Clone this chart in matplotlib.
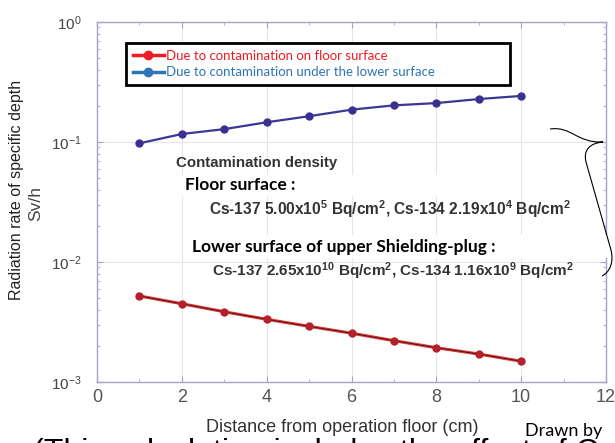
import matplotlib
matplotlib.use('Agg')
import matplotlib.pyplot as plt
from matplotlib.lines import Line2D
from matplotlib.path import Path
from matplotlib.patches import PathPatch, Rectangle
from matplotlib.ticker import LogLocator, LogFormatterSciNotation, MultipleLocator

plt.rcParams['font.family'] = ['Liberation Sans', 'DejaVu Sans']
plt.rcParams['mathtext.fontset'] = 'custom'
plt.rcParams['mathtext.rm'] = 'Liberation Sans'
plt.rcParams['mathtext.bf'] = 'Liberation Sans:bold'

# Data
distance = [1, 2, 3, 4, 5, 6, 7, 8, 9, 10]
floor_rate = [0.00521, 0.00449, 0.00385, 0.00333, 0.00291,
              0.00255, 0.00221, 0.00193, 0.00171, 0.00149]
lower_rate = [0.0975, 0.1166, 0.128, 0.146, 0.164,
              0.186, 0.202, 0.211, 0.228, 0.242]
legend_labels = ['Due to contamination on floor surface',
                 'Due to contamination under the lower surface']
x_ticks = [0, 2, 4, 6, 8, 10, 12]

W, H = 615, 443


# pixel position -> figure fraction
def px(x, y):
    return x / W, 1 - y / H


fig = plt.figure(figsize=(6.15, 4.43), dpi=100)
ax = fig.add_axes([97 / W, 1 - 382 / H, (606 - 97) / W, (382 - 22) / H])

# Lines
ax.plot(distance, floor_rate, color='#e03434', lw=2.2, zorder=3)
ax.plot(distance, floor_rate, color='#3a1a1a', lw=0.6, marker='o', ms=5,
        mfc='#b4202c', mec='#b4202c', zorder=4)
ax.plot(distance, lower_rate, color='#3c3796', lw=1.6, marker='o', ms=5,
        mfc='#3a3090', mec='#3a3090', zorder=4)

ax.set_yscale('log')
ax.set_xlim(0, 12)
ax.set_ylim(1e-3, 1)
ax.set_xticks(x_ticks)
ax.xaxis.set_minor_locator(MultipleLocator(1))
ax.yaxis.set_major_locator(LogLocator(base=10))
ax.yaxis.set_major_formatter(LogFormatterSciNotation())

spine_col = '#aaa2c4'
for s in ax.spines.values():
    s.set_color(spine_col)
    s.set_linewidth(1.0)
ax.tick_params(which='both', direction='in', top=True, right=True, color=spine_col)
ax.tick_params(which='major', length=4)
ax.tick_params(which='minor', length=2)
ax.tick_params(axis='x', labelsize=13, labelcolor='#555555', pad=5)
ax.tick_params(axis='y', labelsize=11, labelcolor='#444444', pad=11)
ax.grid(True, which='major', color='#e6e6e6', lw=0.8)
ax.set_axisbelow(True)

# Legend
handles = [Line2D([0], [0], color='#ee1c24', lw=2.5, marker='o', ms=6),
           Line2D([0], [0], color='#2e75b6', lw=2.5, marker='o', ms=6)]
x0, y0 = px(126, 89)
leg = ax.legend(handles, legend_labels, loc='upper left', mode='expand',
                bbox_to_anchor=(x0, y0, 384 / W, 46 / H), bbox_transform=fig.transFigure,
                borderaxespad=0, prop={'family': 'Lato', 'size': 9.5},
                labelcolor=['#ee1c24', '#2e75b6'], handlelength=2.4,
                handletextpad=0.1, labelspacing=0.35, borderpad=0.5,
                fancybox=False, framealpha=1)
leg.get_frame().set_edgecolor('black')
leg.get_frame().set_linewidth(2)

# White boxes behind the Calibri headings
for (a, b, c, d) in [(182, 175, 520, 196), (185, 235, 612, 258)]:
    fig.patches.append(Rectangle(px(a, d), (c - a) / W, (d - b) / H,
                                 transform=fig.transFigure, facecolor='white',
                                 edgecolor='none', zorder=1))

fig.text(*px(176, 163), 'Contamination density', fontsize=10.8, fontweight='bold',
         color='#333333', va='center')
fig.text(*px(185, 185), 'Floor surface :', family='Lato', fontsize=12.5,
         fontweight='bold', color='black', va='center')
fig.text(*px(209, 209),
         r'Cs-137 5.00x$\mathbf{10^{5}}$ Bq/$\mathbf{cm^{2}}$, Cs-134 2.19x$\mathbf{10^{4}}$ Bq/$\mathbf{cm^{2}}$',
         fontsize=11.2, fontweight='bold', color='#333333', va='center')
fig.text(*px(192, 247), 'Lower surface of upper Shielding-plug :', family='Lato',
         fontsize=12.5, fontweight='bold', color='black', va='center')
fig.text(*px(212, 271),
         r'Cs-137 2.65x$\mathbf{10^{10}}$ Bq/$\mathbf{cm^{2}}$, Cs-134 1.16x$\mathbf{10^{9}}$ Bq/$\mathbf{cm^{2}}$',
         fontsize=11, fontweight='bold', color='#333333', va='center')

# Curly brace on the right
verts = [(550, 129), (572, 126), (576, 143), (603, 142),
         (590, 143), (583, 150), (586, 162),
         (611, 250),
         (614, 262), (610, 272), (602, 276)]
codes = [Path.MOVETO, Path.CURVE4, Path.CURVE4, Path.CURVE4,
         Path.CURVE4, Path.CURVE4, Path.CURVE4,
         Path.LINETO,
         Path.CURVE4, Path.CURVE4, Path.CURVE4]
brace = Path([px(x, y) for x, y in verts], codes)
fig.patches.append(PathPatch(brace, transform=fig.transFigure, facecolor='none',
                             edgecolor='black', lw=0.8, zorder=2))

# Axis labels and notes
fig.text(*px(342, 427), 'Distance from operation floor (cm)', fontsize=13,
         color='#333333', ha='center', va='center')
fig.text(*px(17, 190), 'Radiation rate of specific depth', fontsize=11.5,
         color='#222222', rotation=90, ha='center', va='center')
fig.text(*px(36, 203), 'Sv/h', fontsize=12.5, color='#444444', rotation=90,
         ha='center', va='center')
fig.text(*px(525, 431), 'Drawn by', family='Lato', fontsize=13, color='black',
         va='center')
fig.text(*px(33, 461), '(This calculation includes the effect of Cs-134 and Cs-137)',
         fontsize=23, color='black', va='baseline')

fig.savefig('out.png', dpi=100)
